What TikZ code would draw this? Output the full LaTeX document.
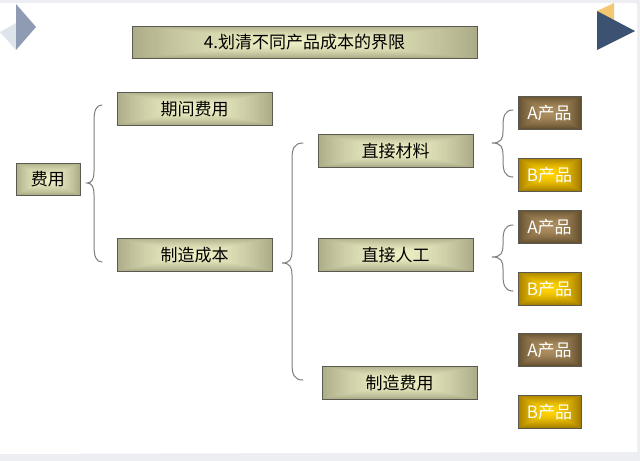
\documentclass[tikz,border=0pt]{standalone}
\usepackage{fontspec}
\usetikzlibrary{calc}
\setmainfont{Noto Sans CJK SC}
\definecolor{framegray}{RGB}{236,238,241}
\definecolor{boxedge}{RGB}{90,90,80}
\definecolor{bracegray}{RGB}{125,125,125}
\definecolor{diadark}{RGB}{143,155,178}
\definecolor{dialight}{RGB}{222,228,236}
\definecolor{navytri}{RGB}{60,82,115}
\definecolor{goldtri}{RGB}{243,200,115}
\definecolor{khakiout}{RGB}{172,172,136}
\definecolor{khakiin}{RGB}{238,238,196}
\definecolor{brownout}{RGB}{100,80,48}
\definecolor{brownin}{RGB}{172,142,95}
\definecolor{goldout}{RGB}{165,125,0}
\definecolor{goldin}{RGB}{255,210,0}
\tikzset{
 x=0.75pt,y=-0.75pt,
 basebox/.style={draw=boxedge,line width=0.75pt,inner sep=0pt,outer sep=0pt,
   text height=11.5pt,text depth=1.5pt,font=\fontsize{12.75pt}{15pt}\selectfont},
 nested/.style n args={2}{path picture={
   \foreach \i in {0,...,59}{
     \pgfmathsetmacro{\frac}{\i/120}
     \pgfmathsetmacro{\pct}{100*(1-\i/59)^1.7}
     \fill[#1!\pct!#2]
       ($(path picture bounding box.south west)!\frac!(path picture bounding box.north east)$)
       rectangle
       ($(path picture bounding box.north east)!\frac!(path picture bounding box.south west)$);
   }}},
 khaki/.style={basebox,nested={khakiout}{khakiin},text=black},
 brownb/.style={basebox,nested={brownout}{brownin},text=white},
 goldb/.style={basebox,nested={goldout}{goldin},text=white},
 bracel/.style={draw=bracegray,line width=0.75pt,line cap=round},
}
\newcommand{\curlybrace}[6]{
 \draw[bracel] (#5,#3) .. controls (#2+2,#3) and (#2,#3+6) .. (#2,#3+16)
  -- (#2,#6-12) .. controls (#2,#6-4) and (#2-2,#6) .. (#1,#6)
  .. controls (#2-2,#6) and (#2,#6+4) .. (#2,#6+12)
  -- (#2,#4-16) .. controls (#2,#4-6) and (#2+2,#4) .. (#5,#4);
}
\newcommand{\rbox}[7]{\node[#2,minimum width=#5*0.75pt-#3*0.75pt,minimum height=#6*0.75pt-#4*0.75pt,anchor=center] (#1) at ({(#3+#5)/2},{(#4+#6)/2}) {#7};}
\begin{document}
\begin{tikzpicture}
\useasboundingbox (0,0) rectangle (640,461);
\fill[framegray] (0,0) rectangle (640,461);
\fill[white] (0,3) -- (635,3) -- (637,5) -- (637,452) -- (0,454) -- cycle;
\fill[dialight] (16,23) -- (0,32) -- (16,50) -- cycle;
\fill[diadark] (16,4) -- (36,27) -- (16,50) -- cycle;
\fill[goldtri] (597,11) -- (614,3) -- (614,22) -- cycle;
\fill[navytri] (597,11) -- (635,31) -- (597,50) -- cycle;
\rbox{title}{khaki}{132}{26}{477}{58}{4.划清不同产品成本的界限}
\rbox{qijian}{khaki}{117}{92}{272}{125}{期间费用}
\rbox{feiyong}{khaki}{16}{163}{80}{195}{费用}
\rbox{zhizao}{khaki}{117}{238}{272}{271}{制造成本}
\rbox{cailiao}{khaki}{318}{134}{473}{167}{直接材料}
\rbox{rengong}{khaki}{318}{238}{473}{271}{直接人工}
\rbox{zzfy}{khaki}{322}{366}{477}{399}{制造费用}
\rbox{aone}{brownb}{518}{96}{581}{129}{A产品}
\rbox{bone}{goldb}{518}{158}{581}{191}{B产品}
\rbox{atwo}{brownb}{518}{210}{581}{243}{A产品}
\rbox{btwo}{goldb}{518}{272}{581}{305}{B产品}
\rbox{athree}{brownb}{518}{333}{581}{366}{A产品}
\rbox{bthree}{goldb}{518}{395}{581}{428}{B产品}
\curlybrace{87}{94}{105}{262}{102}{183}
\curlybrace{282}{292}{143}{380}{303}{263}
\curlybrace{492}{503}{110}{177}{513}{143}
\curlybrace{492}{503}{225}{291}{513}{257}
\end{tikzpicture}
\end{document}
